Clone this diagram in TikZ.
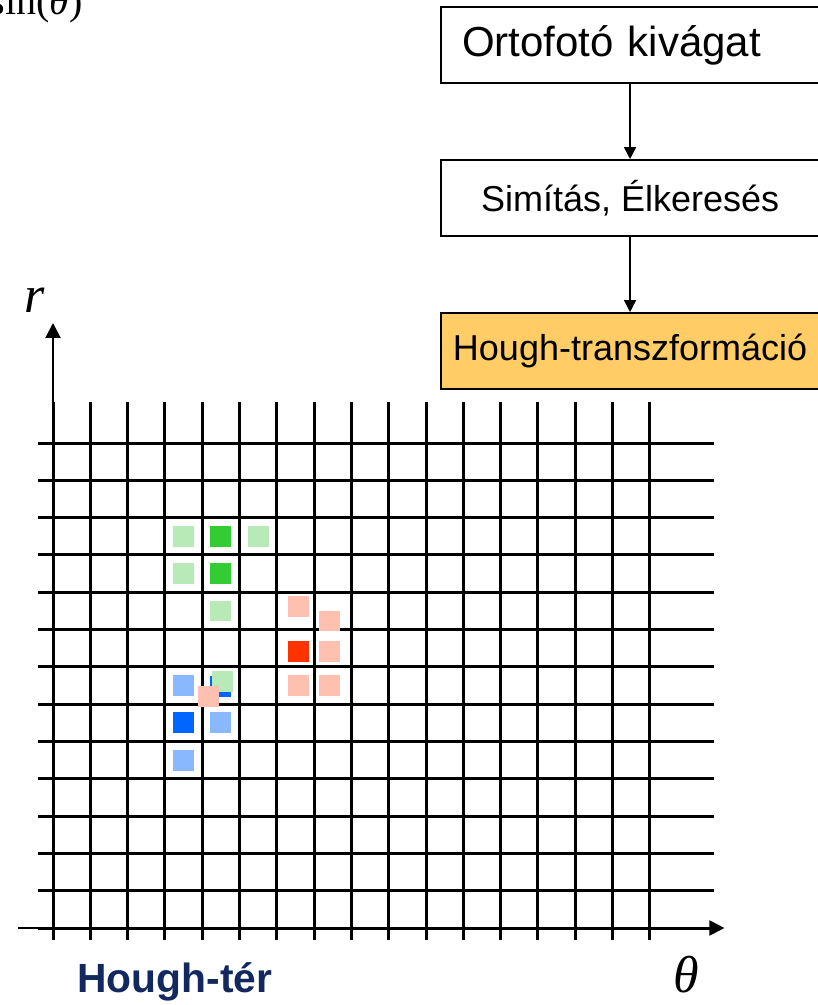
\documentclass[tikz,border=0pt]{standalone}
\usepackage{fontspec}
\setmainfont{Liberation Sans}
\newfontfamily\serifit{Liberation Serif}
\usetikzlibrary{positioning,arrows.meta}

\definecolor{voteGreen}{RGB}{51,204,51}
\definecolor{voteGreenLt}{RGB}{184,234,184}
\definecolor{voteRed}{RGB}{255,51,0}
\definecolor{voteRedLt}{RGB}{255,192,176}
\definecolor{voteBlue}{RGB}{0,102,255}
\definecolor{voteBlueLt}{RGB}{138,184,255}
\definecolor{houghFill}{RGB}{255,204,102}
\definecolor{titleNavy}{RGB}{18,40,94}

\begin{document}
\begin{tikzpicture}[x=18.65pt, y=18.65pt,
  stepbox/.style={draw=black, line width=1pt, minimum width=189pt, minimum height=38pt,
    inner sep=0pt, font=\fontsize{18}{20}\selectfont},
  flow/.style={-{Triangle[length=6pt,width=6pt]}, line width=0.8pt},
  gridline/.style={line width=1.5pt},
  axis/.style={line width=1pt, -{Triangle[length=7.5pt,width=7.5pt]}},
  axislabel/.style={font=\serifit\itshape\fontsize{26}{28}\selectfont}]

  \useasboundingbox (-1.421,-2.064) rectangle (20.483,24.879);

  % Tail of the formula above
  \node[anchor=base east, font=\serifit\fontsize{20}{22}\selectfont, inner sep=0pt]
    (formula) at (0.80,24.50) {sin(\textit{θ})};

  % Processing steps
  \node[stepbox, text width=189pt, align=left, font=\fontsize{21}{23}\selectfont]
    (crop) at (15.47,23.67) {\hspace*{10.5pt}Ortofotó kivágat};
  \node[stepbox, below=37.5pt of crop] (edges) {Simítás, Élkeresés};
  \node[stepbox, fill=houghFill, below=37.5pt of edges] (hough) {Hough-transzformáció};
  \draw[flow] (crop) -- (edges);
  \draw[flow] (edges) -- (hough);

  % Accumulator grid
  \foreach \i in {0,...,16}
    \draw[gridline] (\i,-0.32) -- (\i,14.1);
  \foreach \j in {0,...,13}
    \draw[gridline] (-0.4,\j) -- (17.72,\j);

  % Votes (green line)
  \foreach \x/\y in {3.5/10.5, 5.5/10.5, 3.5/9.5, 4.5/8.5}
    \fill[voteGreenLt] (\x,\y) +(-0.28,-0.28) rectangle +(0.28,0.28);
  \foreach \x/\y in {4.5/10.5, 4.5/9.5}
    \fill[voteGreen] (\x,\y) +(-0.28,-0.28) rectangle +(0.28,0.28);

  % Votes (blue line)
  \foreach \x/\y in {3.5/6.5, 4.5/5.5, 3.5/4.5}
    \fill[voteBlueLt] (\x,\y) +(-0.28,-0.28) rectangle +(0.28,0.28);
  \foreach \x/\y in {4.48/6.47, 3.5/5.5}
    \fill[voteBlue] (\x,\y) +(-0.28,-0.28) rectangle +(0.28,0.28);
  \fill[voteGreenLt] (4.54,6.60) +(-0.28,-0.28) rectangle +(0.28,0.28);

  % Votes (red line)
  \foreach \x/\y in {6.58/8.63, 7.41/8.23, 7.41/7.42, 6.58/6.50, 7.41/6.50, 4.17/6.21}
    \fill[voteRedLt] (\x,\y) +(-0.28,-0.28) rectangle +(0.28,0.28);
  \fill[voteRed] (6.58,7.42) +(-0.28,-0.28) rectangle +(0.28,0.28);

  % Axes
  \coordinate (thetaStart) at (-0.94,0);
  \coordinate (thetaEnd) at (18.0,0);
  \coordinate (rStart) at (0,-0.32);
  \coordinate (rEnd) at (0,16.22);
  \draw[axis] (thetaStart) -- (thetaEnd);
  \draw[axis] (rStart) -- (rEnd);
  \node[axislabel] (rlabel) at (-0.48,16.84) {r};
  \node[axislabel] (thetalabel) at (16.97,-1.26) {θ};

  \node[anchor=base, font=\bfseries\fontsize{20.4}{23}\selectfont, text=titleNavy]
    (space) at (3.27,-1.72) {Hough-tér};

\end{tikzpicture}
\end{document}
